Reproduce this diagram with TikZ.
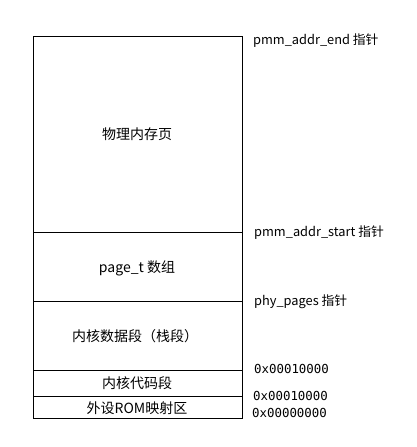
\documentclass[tikz,border=0pt]{standalone}
\usepackage{fontspec}
\setmainfont{Noto Sans CJK SC}
\newfontfamily\hexfont{DejaVu Sans Mono}
\begin{document}
\begin{tikzpicture}[x=1pt,y=-1pt,
  seg/.style={draw=black, line width=1pt},
  lbl/.style={font=\fontsize{14}{16}\selectfont, inner sep=0pt},
  ptr/.style={font=\fontsize{12.8}{14}\selectfont, inner sep=0pt, anchor=west},
  hex/.style={font=\hexfont\fontsize{12.4}{14}\selectfont, inner sep=0pt, anchor=west}]
\useasboundingbox (0,0) rectangle (416,447);
\fill[white] (0,0) rectangle (416,447);
\draw[seg] (33,36) rectangle (242,418);
\coordinate (d1l) at (33,232); \coordinate (d1r) at (242,232);
\coordinate (d2l) at (33,301); \coordinate (d2r) at (242,301);
\coordinate (d3l) at (33,370); \coordinate (d3r) at (242,370);
\coordinate (d4l) at (33,396); \coordinate (d4r) at (242,396);
\draw[seg] (d1l) -- (d1r);
\draw[seg] (d2l) -- (d2r);
\draw[seg] (d3l) -- (d3r);
\draw[seg] (d4l) -- (d4r);
\node[lbl] (a) at (137,134) {物理内存页};
\node[lbl] (b) at (137,268) {page\_t 数组};
\node[lbl] (c) at (135,336) {内核数据段（栈段）};
\node[lbl] (d) at (137,383) {内核代码段};
\node[lbl] (e) at (137,408) {外设ROM映射区};
\node[ptr] (p1) at (253,41) {pmm\_addr\_end 指针};
\node[ptr] (p2) at (254,233) {pmm\_addr\_start 指针};
\node[ptr] (p3) at (254,302) {phy\_pages 指针};
\node[hex] (h1) at (254,369) {0x00010000};
\node[hex] (h2) at (253,396) {0x00010000};
\node[hex] (h3) at (252,413) {0x00000000};
\end{tikzpicture}
\end{document}
